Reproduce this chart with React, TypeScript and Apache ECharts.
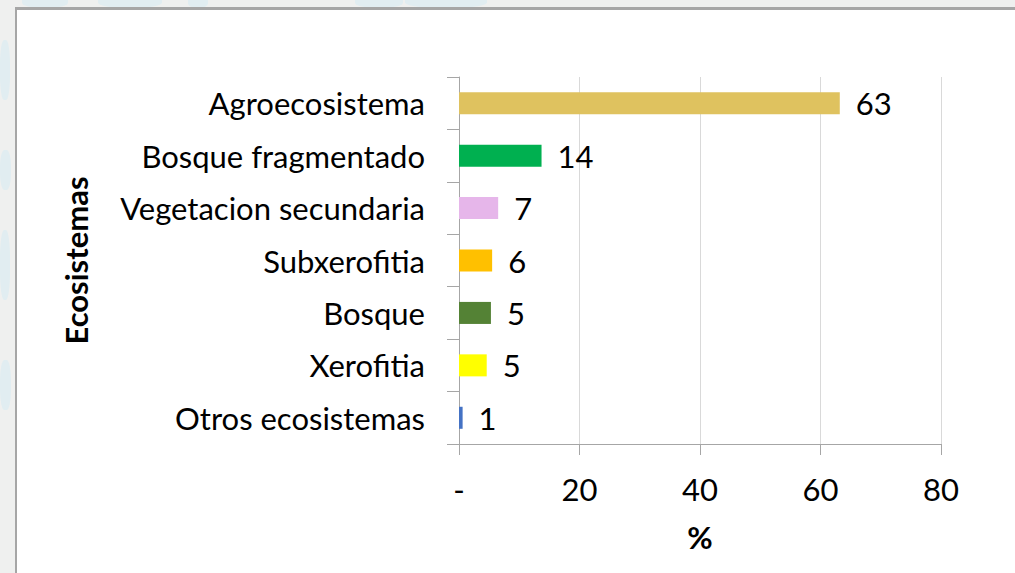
import React, { useEffect, useRef } from "react";
import * as echarts from "echarts";

const categories = [
  "Agroecosistema",
  "Bosque fragmentado",
  "Vegetacion secundaria",
  "Subxerofitia",
  "Bosque",
  "Xerofitia",
  "Otros ecosistemas",
];
const values = [63.2, 13.7, 6.5, 5.5, 5.3, 4.6, 0.6];
const barColors = ["#dfc25f", "#00b050", "#e6b6ea", "#ffc000", "#548235", "#ffff00", "#4472c4"];
const xTicks = [0, 20, 40, 60, 80];
const xAxisTitle = "%";
const yAxisTitle = "Ecosistemas";

const FONT = "Lato, 'Open Sans', sans-serif";

const blobs = [
  { left: 22, top: -6, w: 46, h: 14 },
  { left: 98, top: -6, w: 64, h: 14 },
  { left: 188, top: -4, w: 20, h: 12 },
  { left: 355, top: -6, w: 48, h: 14 },
  { left: 405, top: -6, w: 82, h: 14 },
  { left: 0, top: 40, w: 10, h: 60 },
  { left: 0, top: 150, w: 11, h: 40 },
  { left: 0, top: 230, w: 10, h: 70 },
  { left: 0, top: 360, w: 11, h: 50 },
];

export default function App() {
  const ref = useRef<HTMLDivElement>(null);
  useEffect(() => {
    if (!ref.current) return;
    const chart = echarts.init(ref.current, null, { renderer: "svg" });
    chart.setOption({
      animation: false,
      backgroundColor: "transparent",
      grid: { left: 459, right: 74, top: 77, bottom: 129, containLabel: false },
      xAxis: {
        type: "value",
        min: xTicks[0],
        max: xTicks[xTicks.length - 1],
        interval: 20,
        name: xAxisTitle,
        nameLocation: "middle",
        nameGap: 77,
        nameTextStyle: { fontFamily: FONT, fontSize: 31, fontWeight: "bold", color: "#000" },
        axisLine: { show: true, lineStyle: { color: "#a6a6a6", width: 1 } },
        axisTick: { show: true, length: 11, lineStyle: { color: "#a6a6a6" } },
        splitLine: { show: true, lineStyle: { color: "#d9d9d9", width: 1 } },
        axisLabel: {
          margin: 29,
          fontFamily: FONT,
          fontSize: 31,
          color: "#000",
          formatter: (v: number) => (v === 0 ? "-" : String(v)),
        },
      },
      yAxis: {
        type: "category",
        data: categories,
        inverse: true,
        name: yAxisTitle,
        nameLocation: "middle",
        nameGap: 368,
        nameRotate: 90,
        nameTextStyle: { fontFamily: FONT, fontSize: 31, fontWeight: "bold", color: "#000" },
        axisLine: { show: true, lineStyle: { color: "#a6a6a6", width: 1 } },
        axisTick: { show: true, length: 12, lineStyle: { color: "#a6a6a6" } },
        axisLabel: { margin: 34, fontFamily: FONT, fontSize: 31, color: "#000" },
      },
      series: [
        {
          type: "bar",
          barWidth: "42%",
          data: values.map((v, i) => ({ value: v, itemStyle: { color: barColors[i] } })),
          label: {
            show: true,
            position: "right",
            distance: 16,
            fontFamily: FONT,
            fontSize: 31,
            color: "#000",
            formatter: (p: any) => String(Math.round(p.value)),
          },
        },
      ],
    });
    return () => chart.dispose();
  }, []);

  return (
    <div
      style={{
        position: "absolute",
        left: 0,
        top: 0,
        width: 1015,
        height: 573,
        background: "#eff0ef",
        overflow: "hidden",
      }}
    >
      {blobs.map((b, i) => (
        <div
          key={i}
          style={{
            position: "absolute",
            left: b.left,
            top: b.top,
            width: b.w,
            height: b.h,
            background: "#e1edf1",
            borderRadius: "40%",
          }}
        />
      ))}
      <div
        style={{
          position: "absolute",
          left: 15,
          top: 7,
          width: 1100,
          height: 700,
          background: "#ffffff",
          borderLeft: "2px solid #a6a6a6",
          borderTop: "3px solid #a6a6a6",
        }}
      />
      <div ref={ref} style={{ position: "absolute", left: 0, top: 0, width: 1015, height: 573 }} />
    </div>
  );
}
